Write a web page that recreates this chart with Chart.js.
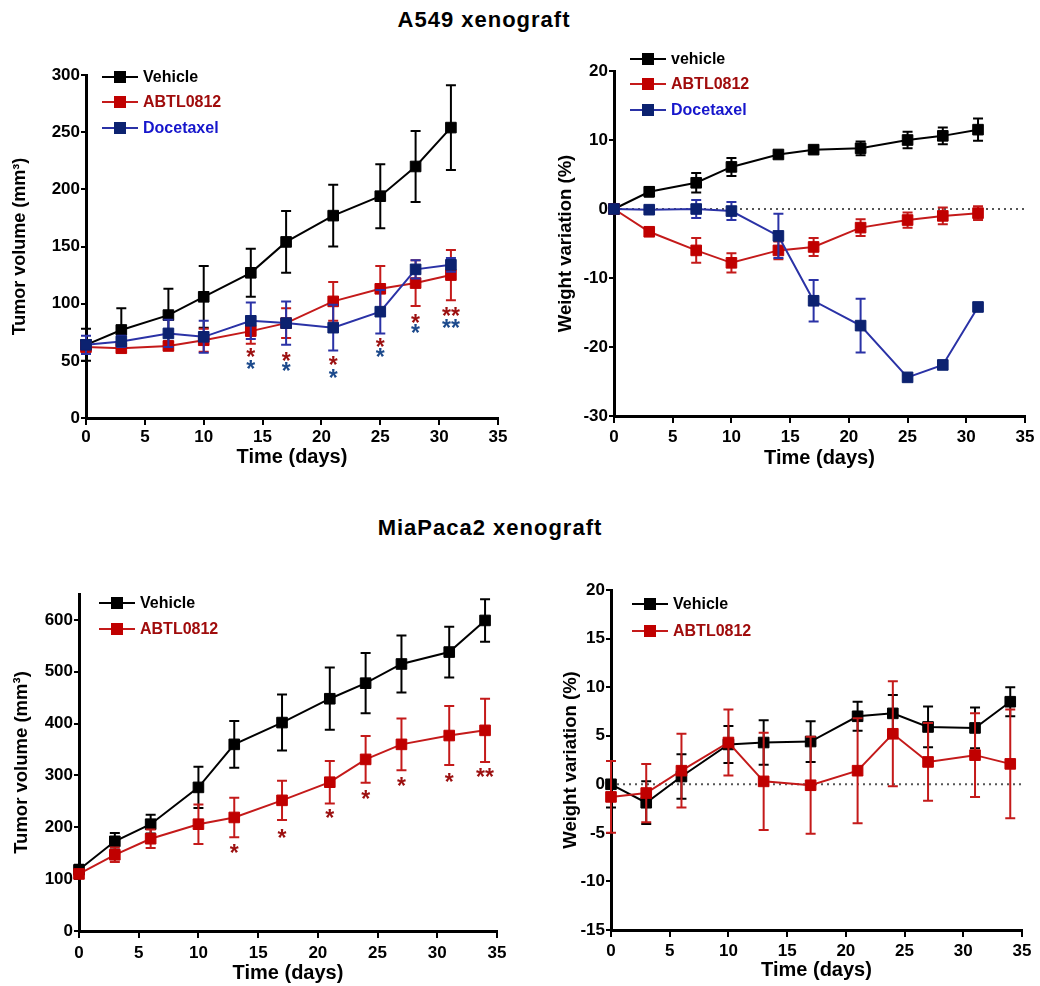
<!DOCTYPE html>
<html><head><meta charset="utf-8">
<script src="https://cdn.jsdelivr.net/npm/chart.js@4.4.1/dist/chart.umd.min.js"></script>
<style>
html,body{margin:0;padding:0;background:#fff;width:1040px;height:986px;overflow:hidden;}
.wrap{position:absolute;}
.wrap canvas{display:block;}
.title{position:absolute;font-family:"Liberation Sans",Arial,sans-serif;font-weight:bold;font-size:22px;letter-spacing:1px;color:#000;white-space:nowrap;transform:translateX(-50%);line-height:26px;}
</style></head><body>
<div class="title" style="left:484px;top:7px">A549 xenograft</div>
<div class="title" style="left:490px;top:515px">MiaPaca2 xenograft</div>
<div class="wrap" style="left:0px;top:60px"><canvas id="c1" width="520" height="420"></canvas></div>
<div class="wrap" style="left:546px;top:40px"><canvas id="c2" width="494" height="440"></canvas></div>
<div class="wrap" style="left:0px;top:560px"><canvas id="c3" width="520" height="426"></canvas></div>
<div class="wrap" style="left:551px;top:560px"><canvas id="c4" width="489" height="426"></canvas></div>
<script>
// ---------- DATA ----------
// A549 xenograft
const a549Days = [0, 3, 7, 10, 14, 17, 21, 25, 28, 31];
const a549VolVehicle     = [64, 77, 90, 106, 127, 154, 177, 194, 220, 254];
const a549VolVehicleErr  = [14, 19, 23, 27, 21, 27, 27, 28, 31, 37];
const a549VolAbtl        = [62, 61, 63, 68, 76, 83, 102, 113, 118, 125];
const a549VolAbtlErr     = [6, 3, 3, 10, 11, 13, 17, 20, 20, 22];
const a549VolDoce        = [64, 67, 74, 71, 85, 83, 79, 93, 130, 134];
const a549VolDoceErr     = [8, 5, 12, 14, 16, 19, 20, 19, 8, 6];
const a549StarDays       = [14, 17, 21, 25, 28, 31];
const a549StarLabels     = ['*', '*', '*', '*', '*', '**'];
const a549StarAbtlY      = [57, 54, 50, 66, 87, 93];
const a549StarDoceY      = [47, 45, 39, 57, 78, 83];

const a549WtVehicle      = [0, 2.5, 3.8, 6.1, 7.9, 8.6, 8.8, 10.0, 10.6, 11.5];
const a549WtVehicleErr   = [0.3, 0.7, 1.4, 1.3, 0.4, 0.4, 1.0, 1.2, 1.2, 1.6];
const a549WtAbtl         = [0, -3.3, -6.0, -7.8, -6.0, -5.5, -2.7, -1.6, -1.0, -0.6];
const a549WtAbtlErr      = [0.3, 0.6, 1.8, 1.4, 1.3, 1.3, 1.2, 1.1, 1.2, 1.0];
const a549WtDoce         = [0, -0.1, 0, -0.3, -3.9, -13.3, -16.9, -24.4, -22.6, -14.2];
const a549WtDoceErr      = [0.3, 0.3, 1.3, 1.3, 3.2, 3.0, 3.9, 0.3, 0.3, 0.3];

// MiaPaca2 xenograft
const miaDays = [0, 3, 6, 10, 13, 17, 21, 24, 27, 31, 34];
const miaVolVehicle      = [118, 173, 206, 277, 360, 402, 448, 478, 515, 538, 599];
const miaVolVehicleErr   = [10, 16, 18, 40, 45, 54, 60, 58, 55, 49, 41];
const miaVolAbtl         = [110, 147, 178, 206, 219, 252, 287, 331, 360, 377, 387];
const miaVolAbtlErr      = [8, 14, 18, 38, 38, 38, 41, 45, 50, 57, 61];
const miaStarDays        = [13, 17, 21, 24, 27, 31, 34];
const miaStarLabels      = ['*', '*', '*', '*', '*', '*', '**'];
const miaStarY           = [159, 188, 227, 264, 288, 297, 305];

const miaWtVehicle       = [0, -1.9, 0.8, 4.1, 4.3, 4.4, 7.0, 7.3, 5.9, 5.8, 8.5];
const miaWtVehicleErr    = [2.4, 2.2, 2.3, 1.9, 2.3, 2.1, 1.5, 1.9, 2.1, 2.1, 1.5];
const miaWtAbtl          = [-1.3, -0.9, 1.4, 4.3, 0.3, -0.1, 1.4, 5.2, 2.3, 3.0, 2.1];
const miaWtAbtlErr       = [3.7, 3.0, 3.8, 3.4, 5.0, 5.0, 5.4, 5.4, 4.0, 4.3, 5.6];

// Axis ticks
const xTicks = {min: 0, max: 35, step: 5};
const volA549Ticks = {min: 0, max: 300, step: 50};
const wtA549Ticks = {min: -30, max: 20, step: 10};
const volMiaTicks = {min: 0, max: 650, step: 100};
const wtMiaTicks = {min: -15, max: 20, step: 5};

// ---------- STYLE ----------
const FONT = '"Liberation Sans", Arial, sans-serif';
const C = {
  black: {line: '#000000', marker: '#000000', text: '#000000'},
  red:   {line: '#c41a1a', marker: '#c00000', text: '#a00c0c', star: '#9c1010'},
  blue:  {line: '#2a32a6', marker: '#0c2270', text: '#1616cc', star: '#1c4a8c'}
};

function series(label, values, errors, col, order) {
  return {label, values, errors, col, order};
}

function panel(id, o) {
  const legendPlugin = {
    id: 'customLegend',
    afterDraw(chart) {
      const ctx = chart.ctx, a = chart.chartArea;
      ctx.save();
      o.legend.forEach((it, k) => {
        const y = a.top + o.legendY[k];
        const x0 = a.left + o.legendX;
        ctx.strokeStyle = it.col.line; ctx.lineWidth = 2;
        ctx.beginPath(); ctx.moveTo(x0, y); ctx.lineTo(x0 + 36, y); ctx.stroke();
        ctx.fillStyle = it.col.marker;
        ctx.fillRect(x0 + 12, y - 6, 12, 12);
        ctx.fillStyle = it.col.text;
        ctx.font = 'bold 16px ' + FONT;
        ctx.textBaseline = 'middle'; ctx.textAlign = 'left';
        ctx.fillText(it.label, x0 + 41, y + 1);
      });
      ctx.restore();
    }
  };
  const errPlugin = {
    id: 'errBars',
    beforeDatasetDraw(chart, args) {
      const ds = chart.data.datasets[args.index];
      const meta = args.meta, ys = chart.scales.y, ctx = chart.ctx;
      ctx.save();
      ctx.strokeStyle = ds.borderColor; ctx.lineWidth = 2;
      meta.data.forEach((pt, i) => {
        const v = ds.data[i].y, e = ds.errors[i];
        const yt = ys.getPixelForValue(v + e), yb = ys.getPixelForValue(v - e);
        ctx.beginPath();
        ctx.moveTo(pt.x, yt); ctx.lineTo(pt.x, yb);
        ctx.moveTo(pt.x - 5, yt); ctx.lineTo(pt.x + 5, yt);
        ctx.moveTo(pt.x - 5, yb); ctx.lineTo(pt.x + 5, yb);
        ctx.stroke();
      });
      ctx.restore();
    }
  };
  const zeroPlugin = {
    id: 'zeroLine',
    beforeDatasetsDraw(chart) {
      if (!o.zeroLine) return;
      const ctx = chart.ctx, xs = chart.scales.x, ys = chart.scales.y;
      const y = ys.getPixelForValue(0);
      ctx.save();
      ctx.strokeStyle = '#555'; ctx.lineWidth = 2; ctx.setLineDash([2, 4]);
      ctx.beginPath(); ctx.moveTo(xs.getPixelForValue(xTicks.min), y); ctx.lineTo(xs.getPixelForValue(xTicks.max), y); ctx.stroke();
      ctx.restore();
    }
  };
  const starPlugin = {
    id: 'stars',
    afterDatasetsDraw(chart) {
      const ctx = chart.ctx, xs = chart.scales.x, ys = chart.scales.y;
      ctx.save();
      ctx.font = 'bold 23px ' + FONT;
      ctx.textAlign = 'center'; ctx.textBaseline = 'alphabetic';
      const m = ctx.measureText('*');
      const off = (m.actualBoundingBoxAscent - m.actualBoundingBoxDescent) / 2;
      (o.stars || []).forEach(s => {
        ctx.fillStyle = s.color;
        s.days.forEach((d, i) => {
          ctx.fillText(s.labels[i], xs.getPixelForValue(d), ys.getPixelForValue(s.y[i]) + off);
        });
      });
      ctx.restore();
    }
  };
  const tickFont = {family: FONT, size: 17, weight: 'bold'};
  return new Chart(document.getElementById(id), {
    type: 'line',
    data: {
      datasets: o.series.map(s => ({
        label: s.label,
        data: o.days.map((d, i) => ({x: d, y: s.values[i]})),
        errors: s.errors,
        borderColor: s.col.line,
        backgroundColor: s.col.marker,
        pointBackgroundColor: s.col.marker,
        pointBorderColor: s.col.marker,
        borderWidth: 2,
        pointStyle: 'rect',
        pointRadius: 7.5,
        pointHoverRadius: 7.5,
        pointBorderWidth: 1,
        tension: 0,
        clip: false,
        order: s.order
      }))
    },
    options: {
      responsive: false, animation: false, devicePixelRatio: 1, events: [],
      layout: {padding: {left: 0, top: o.padTop, right: o.padRight, bottom: 0}},
      plugins: {legend: {display: false}, tooltip: {enabled: false}, title: {display: false}},
      scales: {
        x: {
          type: 'linear', min: xTicks.min, max: xTicks.max,
          ticks: {stepSize: xTicks.step, font: tickFont, color: '#000', padding: o.xTickPad, maxRotation: 0, autoSkip: false},
          grid: {display: true, drawOnChartArea: false, drawTicks: true, tickLength: 7, color: '#000', lineWidth: 2},
          border: {display: true, color: '#000', width: 3},
          title: {display: true, text: 'Time (days)', color: '#000', font: {family: FONT, size: 20, weight: 'bold'}, padding: {top: 0, bottom: o.xTitlePad}},
          afterFit: s => { s.height = o.xHeight; }
        },
        y: {
          type: 'linear', min: o.yt.min, max: o.yt.max,
          ticks: {stepSize: o.yt.step, font: tickFont, color: '#000', padding: 1, autoSkip: false},
          afterBuildTicks: s => { s.ticks = s.ticks.filter(t => Math.abs((t.value - o.yt.min) / o.yt.step - Math.round((t.value - o.yt.min) / o.yt.step)) < 1e-6); },
          grid: {display: true, drawOnChartArea: false, drawTicks: true, tickLength: 5, color: '#000', lineWidth: 2},
          border: {display: true, color: '#000', width: 3},
          title: {display: true, text: o.yTitle, color: '#000', font: {family: FONT, size: o.yTitleSize, weight: 'bold'}, padding: {top: o.yTitlePad, bottom: 0}},
          afterFit: s => { s.width = o.yWidth; }
        }
      }
    },
    plugins: [zeroPlugin, errPlugin, starPlugin, legendPlugin]
  });
}

// Panel 1: A549 tumor volume
panel('c1', {
  days: a549Days, yt: volA549Ticks, yTitle: 'Tumor volume (mm³)', yTitleSize: 18, yTitlePad: 9,
  padTop: 15, padRight: 22, yWidth: 86, xHeight: 62, xTickPad: 2, xTitlePad: 11, zeroLine: false,
  series: [
    series('Vehicle', a549VolVehicle, a549VolVehicleErr, C.black, 3),
    series('ABTL0812', a549VolAbtl, a549VolAbtlErr, C.red, 2),
    series('Docetaxel', a549VolDoce, a549VolDoceErr, C.blue, 1)
  ],
  legend: [{label: 'Vehicle', col: C.black}, {label: 'ABTL0812', col: C.red}, {label: 'Docetaxel', col: C.blue}],
  legendX: 16, legendY: [2, 27, 53],
  stars: [
    {days: a549StarDays, labels: a549StarLabels, y: a549StarAbtlY, color: C.red.star},
    {days: a549StarDays, labels: a549StarLabels, y: a549StarDoceY, color: C.blue.star}
  ]
});

// Panel 2: A549 weight variation
panel('c2', {
  days: a549Days, yt: wtA549Ticks, yTitle: 'Weight variation (%)', yTitleSize: 18.5, yTitlePad: 9,
  padTop: 31, padRight: 15, yWidth: 68, xHeight: 64, xTickPad: 4, xTitlePad: 10, zeroLine: true,
  series: [
    series('vehicle', a549WtVehicle, a549WtVehicleErr, C.black, 3),
    series('ABTL0812', a549WtAbtl, a549WtAbtlErr, C.red, 2),
    series('Docetaxel', a549WtDoce, a549WtDoceErr, C.blue, 1)
  ],
  legend: [{label: 'vehicle', col: C.black}, {label: 'ABTL0812', col: C.red}, {label: 'Docetaxel', col: C.blue}],
  legendX: 16, legendY: [-12, 13, 39]
});

// Panel 3: MiaPaca2 tumor volume
panel('c3', {
  days: miaDays, yt: volMiaTicks, yTitle: 'Tumor volume (mm³)', yTitleSize: 18.5, yTitlePad: 11,
  padTop: 34, padRight: 23, yWidth: 79, xHeight: 55, xTickPad: 5, xTitlePad: 1, zeroLine: false,
  series: [
    series('Vehicle', miaVolVehicle, miaVolVehicleErr, C.black, 2),
    series('ABTL0812', miaVolAbtl, miaVolAbtlErr, C.red, 1)
  ],
  legend: [{label: 'Vehicle', col: C.black}, {label: 'ABTL0812', col: C.red}],
  legendX: 20, legendY: [9, 35],
  stars: [{days: miaStarDays, labels: miaStarLabels, y: miaStarY, color: C.red.star}]
});

// Panel 4: MiaPaca2 weight variation
panel('c4', {
  days: miaDays, yt: wtMiaTicks, yTitle: 'Weight variation (%)', yTitleSize: 18.5, yTitlePad: 9,
  padTop: 30, padRight: 18, yWidth: 60, xHeight: 56, xTickPad: 4, xTitlePad: 4, zeroLine: true,
  series: [
    series('Vehicle', miaWtVehicle, miaWtVehicleErr, C.black, 2),
    series('ABTL0812', miaWtAbtl, miaWtAbtlErr, C.red, 1)
  ],
  legend: [{label: 'Vehicle', col: C.black}, {label: 'ABTL0812', col: C.red}],
  legendX: 21, legendY: [14, 41]
});
</script>
</body></html>
